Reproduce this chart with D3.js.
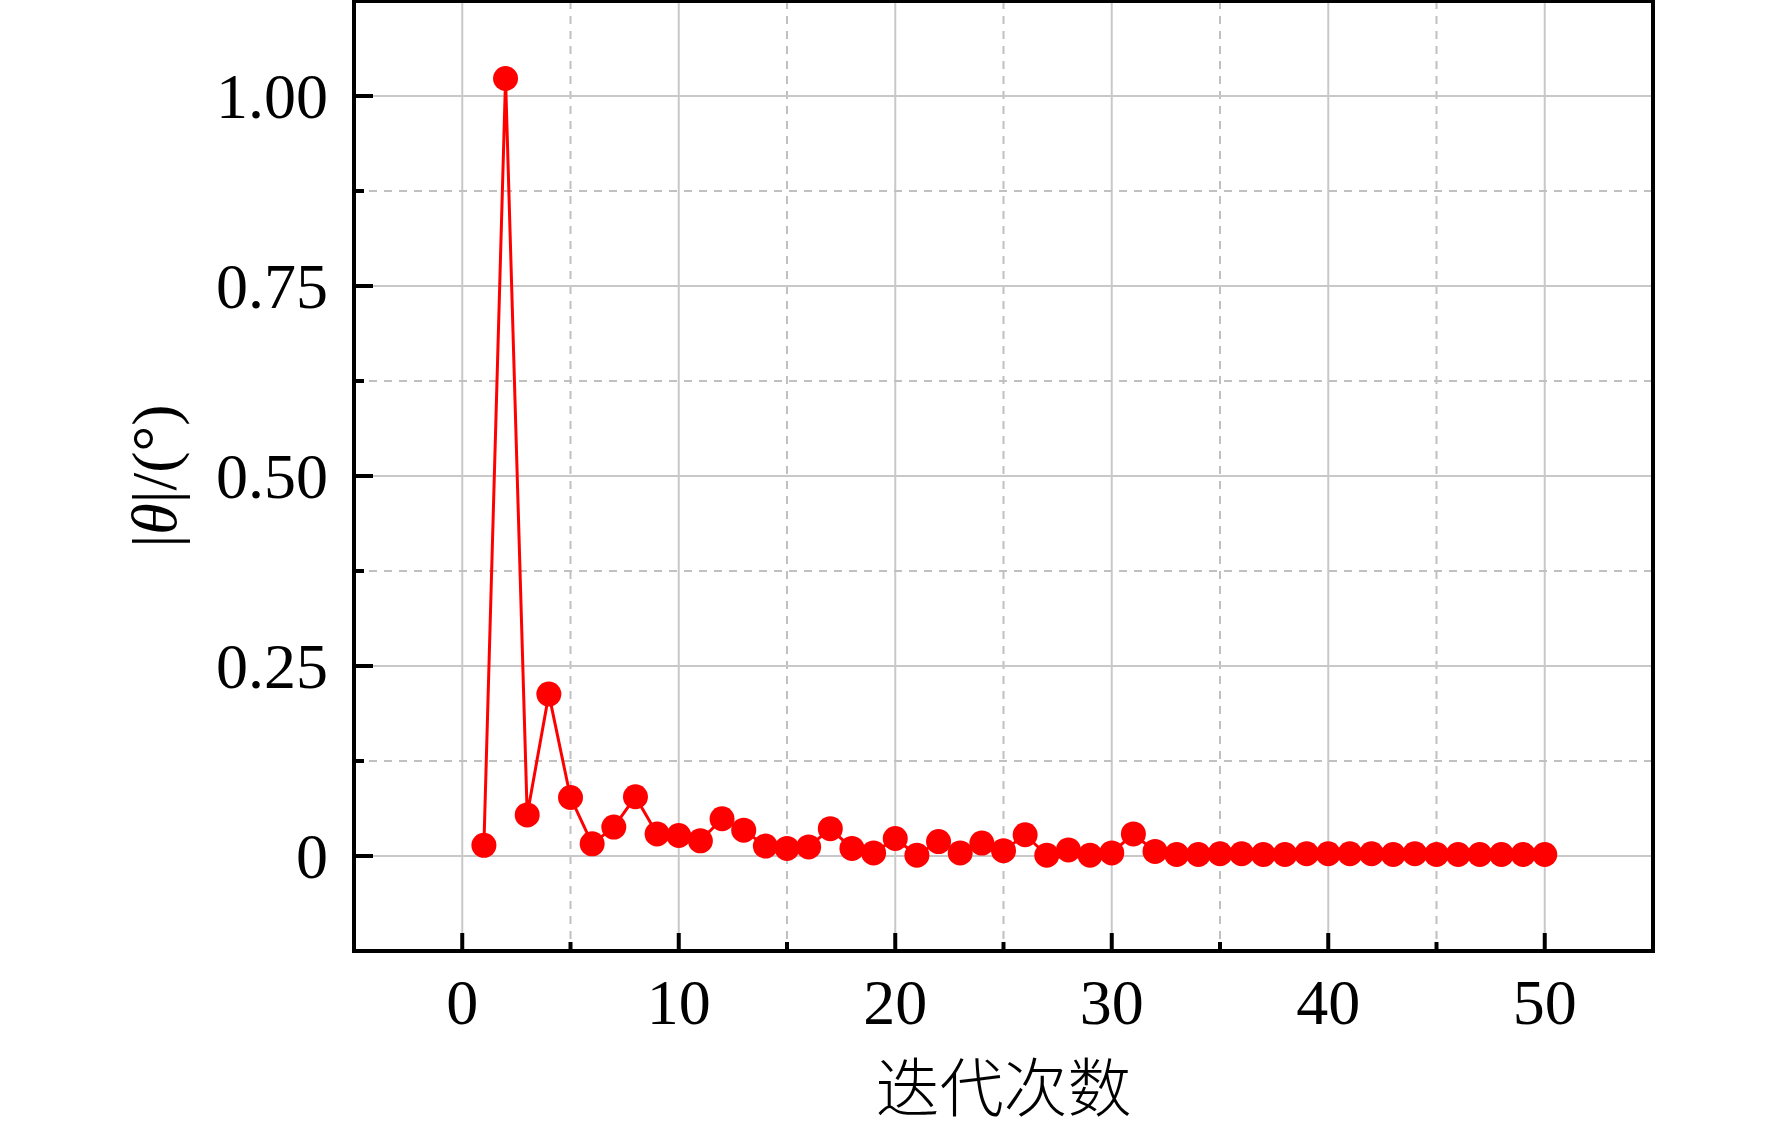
<!DOCTYPE html>
<html>
<head>
<meta charset="utf-8">
<script src="https://cdn.jsdelivr.net/npm/d3@7/dist/d3.min.js"></script>
<style>
  html, body { margin: 0; padding: 0; background: #fff; }
  svg { display: block; }
</style>
</head>
<body>
<svg id="chart" width="1772" height="1129"></svg>
<script>
// ---- data ----
const iterations = [1,2,3,4,5,6,7,8,9,10,11,12,13,14,15,16,17,18,19,20,21,22,23,24,25,
                    26,27,28,29,30,31,32,33,34,35,36,37,38,39,40,41,42,43,44,45,46,47,48,49,50];
const thetaAbs = [0.014, 1.023, 0.054, 0.213, 0.077, 0.016, 0.038, 0.078, 0.029, 0.027,
                  0.020, 0.049, 0.034, 0.013, 0.010, 0.012, 0.036, 0.010, 0.004, 0.023,
                  0.001, 0.019, 0.004, 0.017, 0.007, 0.028, 0.001, 0.008, 0.001, 0.004,
                  0.029, 0.006, 0.002, 0.002, 0.003, 0.003, 0.002, 0.002, 0.003, 0.003,
                  0.003, 0.003, 0.002, 0.003, 0.002, 0.002, 0.002, 0.002, 0.002, 0.002];
const xMajorTicks = [0, 10, 20, 30, 40, 50];
const xMinorTicks = [5, 15, 25, 35, 45];
const yMajorTicks = [0, 0.25, 0.5, 0.75, 1.0];
const yMinorTicks = [0.125, 0.375, 0.625, 0.875];
const xTitle = "迭代次数";

// ---- layout ----
const L = 354, R = 1653, T = 1, B = 951;
const svg = d3.select("#chart");
const x = d3.scaleLinear().domain([-5, 55]).range([L, R]);
const y = d3.scaleLinear().domain([-0.125, 1.125]).range([B, T]);
const serif = "'Liberation Serif', 'Times New Roman', serif";

// ---- grid ----
const grid = svg.append("g");
grid.selectAll(".vmaj").data(xMajorTicks).join("line")
  .attr("x1", d => x(d)).attr("x2", d => x(d)).attr("y1", T).attr("y2", B)
  .attr("stroke", "#c8c8c8").attr("stroke-width", 2);
grid.selectAll(".vmin").data(xMinorTicks).join("line")
  .attr("x1", d => x(d)).attr("x2", d => x(d)).attr("y1", T).attr("y2", B)
  .attr("stroke", "#c0c0c0").attr("stroke-width", 2).attr("stroke-dasharray", "8,7");
grid.selectAll(".hmaj").data(yMajorTicks).join("line")
  .attr("x1", L).attr("x2", R).attr("y1", d => y(d)).attr("y2", d => y(d))
  .attr("stroke", "#c8c8c8").attr("stroke-width", 2);
grid.selectAll(".hmin").data(yMinorTicks).join("line")
  .attr("x1", L).attr("x2", R).attr("y1", d => y(d)).attr("y2", d => y(d))
  .attr("stroke", "#c0c0c0").attr("stroke-width", 2).attr("stroke-dasharray", "8,7");

// ---- series ----
const pts = iterations.map((d, i) => [d, thetaAbs[i]]);
svg.append("path")
  .datum(pts)
  .attr("fill", "none")
  .attr("stroke", "#ff0000")
  .attr("stroke-width", 3)
  .attr("stroke-linejoin", "round")
  .attr("d", d3.line().x(d => x(d[0])).y(d => y(d[1])));
svg.append("g").selectAll("circle").data(pts).join("circle")
  .attr("cx", d => x(d[0])).attr("cy", d => y(d[1]))
  .attr("r", 12.5)
  .attr("fill", "#ff0000");

// ---- ticks (inward) ----
const tk = svg.append("g").attr("stroke", "#000").attr("stroke-width", 4);
tk.selectAll(".xM").data(xMajorTicks).join("line")
  .attr("x1", d => x(d)).attr("x2", d => x(d)).attr("y1", B).attr("y2", B - 18);
tk.selectAll(".xm").data(xMinorTicks).join("line")
  .attr("x1", d => x(d)).attr("x2", d => x(d)).attr("y1", B).attr("y2", B - 9);
tk.selectAll(".yM").data(yMajorTicks).join("line")
  .attr("y1", d => y(d)).attr("y2", d => y(d)).attr("x1", L).attr("x2", L + 19);
tk.selectAll(".ym").data(yMinorTicks).join("line")
  .attr("y1", d => y(d)).attr("y2", d => y(d)).attr("x1", L).attr("x2", L + 10);

// ---- frame ----
svg.append("rect")
  .attr("x", L).attr("y", T).attr("width", R - L).attr("height", B - T)
  .attr("fill", "none").attr("stroke", "#000").attr("stroke-width", 4);

// ---- tick labels ----
svg.append("g").selectAll("text").data(xMajorTicks).join("text")
  .attr("x", d => x(d)).attr("y", B + 73)
  .attr("text-anchor", "middle")
  .attr("font-family", serif).attr("font-size", 64).attr("fill", "#000")
  .text(d => d);
svg.append("g").selectAll("text").data(yMajorTicks).join("text")
  .attr("x", L - 26).attr("y", d => y(d) + 22)
  .attr("text-anchor", "end")
  .attr("font-family", serif).attr("font-size", 64).attr("fill", "#000")
  .text(d => d === 0 ? "0" : d.toFixed(2));

// ---- axis titles ----
svg.append("text")
  .attr("x", (L + R) / 2).attr("y", 1111)
  .attr("text-anchor", "middle")
  .attr("font-family", "'Noto Sans CJK SC', sans-serif").attr("font-size", 64)
  .attr("font-weight", 300)
  .attr("fill", "#000")
  .text(xTitle);

const yt = svg.append("text")
  .attr("transform", `translate(176, ${(T + B) / 2}) rotate(-90)`)
  .attr("text-anchor", "middle")
  .attr("font-family", serif).attr("font-size", 64).attr("fill", "#000");
yt.append("tspan").text("|");
yt.append("tspan").attr("font-style", "italic").text("θ");
yt.append("tspan").text("|/(°)");
</script>
</body>
</html>
